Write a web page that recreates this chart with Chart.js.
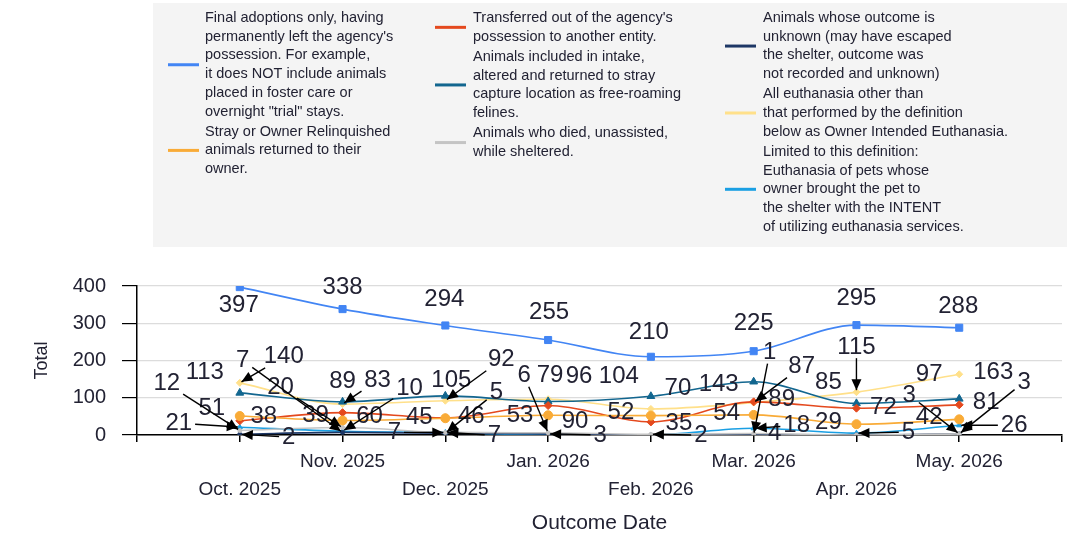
<!DOCTYPE html>
<html>
<head>
<meta charset="utf-8">
<script src="https://cdn.jsdelivr.net/npm/chart.js@4.4.1/dist/chart.umd.min.js"></script>
<style>
    html, body { margin: 0; padding: 0; background: #fff; }
    #wrap { width: 1079px; height: 540px; position: relative; }
</style>
</head>
<body>
<div id="wrap"><canvas id="outcomes"></canvas></div>
<script>
// ===== Data =====
const months = ['Oct. 2025', 'Nov. 2025', 'Dec. 2025', 'Jan. 2026', 'Feb. 2026', 'Mar. 2026', 'Apr. 2026', 'May. 2026'];

const adoption   = [397, 338, 294, 255, 210, 225, 295, 288];
const returnOwner = [51, 39, 45, 53, 52, 54, 29, 42];
const transfer   = [38, 60, 46, 79, 35, 89, 72, 81];
const returnField = [113, 89, 105, 90, 104, 143, 85, 97];
const died       = [12, 20, 7, 6, 2, 4, 0, 3];
const missing    = [2, 7, 5, 3, 0, 1, 0, 3];
const euthanasia = [140, 83, 92, 96, 70, 87, 115, 163];
const ownerEuth  = [21, 10, 7, 0, 0, 18, 5, 26];

const yTicks = [0, 100, 200, 300, 400];

const legendText = [
    ['Final adoptions only, having', "permanently left the agency's", 'possession. For example,', 'it does NOT include animals', 'placed in foster care or', 'overnight "trial" stays.'],
    ['Stray or Owner Relinquished', 'animals returned to their', 'owner.'],
    ["Transferred out of the agency's", 'possession to another entity.'],
    ['Animals included in intake,', 'altered and returned to stray', 'capture location as free-roaming', 'felines.'],
    ['Animals who died, unassisted,', 'while sheltered.'],
    ['Animals whose outcome is', 'unknown (may have escaped', 'the shelter, outcome was', 'not recorded and unknown)'],
    ['All euthanasia other than', 'that performed by the definition', 'below as Owner Intended Euthanasia.'],
    ['Limited to this definition:', 'Euthanasia of pets whose', 'owner brought the pet to', 'the shelter with the INTENT', 'of utilizing euthanasia services.']
];

// ===== Styling =====
const FONT = '"Liberation Sans", Arial, Helvetica, sans-serif';
const TEXT = '#222233';

const seriesStyle = [
    { color: '#4285f4', point: 'rect', radius: 5 },
    { color: '#f9ab37', point: 'circle', radius: 4.5 },
    { color: '#e4491e', point: 'rectRot', radius: 4 },
    { color: '#12668f', point: 'triangle', radius: 4.5 },
    { color: '#c4c4c4', point: 'circle', radius: 2 },
    { color: '#1d3765', point: 'circle', radius: 2 },
    { color: '#ffe08a', point: 'rectRot', radius: 3.5 },
    { color: '#1a9fe3', point: 'triangle', radius: 3 }
];

// label shift from its point, in px [dx, dy]
const labelShift = [
    [[-1, 18], [0, -22], [-1, -26], [1, -28], [-2, -24], [0, -28], [0, -27], [-1, -21]],
    [[-28, -8], [-27, -5], [-26, -1], [-28, 0], [-30, -3], [-27, -2], [-28, -2], [-30, -2]],
    [[24, -4], [27, 4], [26, -1], [2, -30], [28, 1], [28, -2], [27, -1], [27, -2]],
    [[-35, -21], [0, -20], [6, -16], [27, 20], [-32, -20], [-35, 3], [-28, -21], [-30, -24]],
    [[-73, -47], [-62, -40], [-51, 0], [-24, -57], [50, 1], [21, 0], [0, 0], [65, -52]],
    [[49, 3], [-100, -72], [51, -41], [52, 1], [0, 0], [16, -82], [0, 0], [-50, -39]],
    [[44, -26], [35, -24], [56, -41], [31, -23], [27, -21], [48, -36], [0, -45], [34, -2]],
    [[-61, -4], [67, -43], [49, 3], [0, 0], [0, 0], [43, -3], [52, -1], [55, 0]]
];

const allSeries = [adoption, returnOwner, transfer, returnField, died, missing, euthanasia, ownerEuth];

/**
 * Legend drawn in a grey panel above the plot, three columns
 */
const panelLegend = {
    id: 'panelLegend',
    beforeDraw(chart) {
        const ctx = chart.ctx;
        ctx.save();
        ctx.fillStyle = '#f4f4f4';
        ctx.fillRect(153, 3, 914, 244);

        const columns = [
            { items: [0, 1], sym: 168, text: 205 },
            { items: [2, 3, 4], sym: 435, text: 473 },
            { items: [5, 6, 7], sym: 725, text: 763 }
        ];
        const lh = 18.7;
        ctx.font = '14.5px ' + FONT;
        ctx.textBaseline = 'middle';
        ctx.textAlign = 'left';
        columns.forEach(col => {
            let y = 18;
            col.items.forEach(si => {
                const lines = legendText[si];
                const mid = y + (lines.length - 1) * lh / 2;
                ctx.strokeStyle = seriesStyle[si].color;
                ctx.lineWidth = 3;
                ctx.beginPath();
                ctx.moveTo(col.sym, mid);
                ctx.lineTo(col.sym + 31, mid);
                ctx.stroke();
                ctx.fillStyle = TEXT;
                lines.forEach((ln, k) => ctx.fillText(ln, col.text, y + k * lh));
                y += lines.length * lh + 1.5;
            });
        });
        ctx.restore();
    }
};

/**
 * Value labels, with a leader arrow when pushed far from the point
 */
const valueLabels = {
    id: 'valueLabels',
    afterDatasetsDraw(chart) {
        const ctx = chart.ctx;
        ctx.save();
        ctx.font = '24px ' + FONT;
        ctx.textAlign = 'center';
        ctx.textBaseline = 'middle';
        chart.data.datasets.forEach((ds, di) => {
            const meta = chart.getDatasetMeta(di);
            meta.data.forEach((pt, i) => {
                const v = allSeries[di][i];
                if (v === 0) return;
                const [dx, dy] = labelShift[di][i];
                const lx = pt.x + dx;
                const ly = pt.y + dy;
                const dist = Math.hypot(dx, dy);
                if (dist > 42) {
                    const w = ctx.measureText(String(v)).width / 2 + 3;
                    const h = 11;
                    const ux = -dx / dist, uy = -dy / dist;
                    const t = Math.min(Math.abs(ux) > 1e-6 ? w / Math.abs(ux) : 1e9, Math.abs(uy) > 1e-6 ? h / Math.abs(uy) : 1e9);
                    const sx = lx + ux * t, sy = ly + uy * t;
                    const ex = pt.x - ux * 2, ey = pt.y - uy * 2;
                    ctx.strokeStyle = '#000';
                    ctx.fillStyle = '#000';
                    ctx.lineWidth = 1.4;
                    ctx.beginPath();
                    ctx.moveTo(sx, sy);
                    ctx.lineTo(ex, ey);
                    ctx.stroke();
                    const al = 11, aw = 5;
                    ctx.beginPath();
                    ctx.moveTo(ex, ey);
                    ctx.lineTo(ex - ux * al - uy * aw, ey - uy * al + ux * aw);
                    ctx.lineTo(ex - ux * al + uy * aw, ey - uy * al - ux * aw);
                    ctx.closePath();
                    ctx.fill();
                }
                ctx.fillStyle = TEXT;
                ctx.fillText(String(v), lx, ly);
            });
        });
        ctx.restore();
    }
};

function buildDatasets() {
    return allSeries.map((values, si) => ({
        label: legendText[si].join(' '),
        data: values.map((v, i) => ({ x: i, y: v })),
        borderColor: seriesStyle[si].color,
        backgroundColor: seriesStyle[si].color,
        borderWidth: 1.6,
        pointStyle: seriesStyle[si].point,
        pointRadius: seriesStyle[si].radius,
        pointBorderWidth: 1,
        cubicInterpolationMode: 'monotone',
        fill: false
    }));
}

new Chart(document.getElementById('outcomes'), {
    type: 'line',
    data: { datasets: buildDatasets() },
    plugins: [panelLegend, valueLabels],
    options: {
        responsive: true,
        maintainAspectRatio: false,
        animation: false,
        layout: { padding: { top: 286, right: 17, left: 0, bottom: 0 } },
        plugins: { legend: { display: false }, tooltip: { enabled: false } },
        scales: {
            x: {
                type: 'linear',
                min: -1,
                max: 8,
                afterFit: scale => { scale.height = 105; },
                afterBuildTicks: scale => {
                    scale.ticks = [-1, 0, 1, 2, 3, 4, 5, 6, 7, 8].map(v => ({ value: v }));
                },
                ticks: {
                    autoSkip: false,
                    maxRotation: 0,
                    padding: 6,
                    color: TEXT,
                    font: { family: FONT, size: 19, lineHeight: 1.47 },
                    callback: v => {
                        const m = months[v];
                        if (!m) return '';
                        return v % 2 === 1 ? m : ['', m];
                    }
                },
                grid: { drawOnChartArea: false, tickLength: 7, tickColor: '#000', lineWidth: 1.5 },
                border: { color: '#000', width: 1.5 },
                title: {
                    display: true,
                    text: 'Outcome Date',
                    color: TEXT,
                    font: { family: FONT, size: 21 },
                    padding: { top: 0, bottom: 4 }
                }
            },
            y: {
                min: 0,
                max: 400,
                afterFit: scale => { scale.width = 137; },
                afterBuildTicks: scale => {
                    scale.ticks = yTicks.map(v => ({ value: v }));
                },
                ticks: {
                    padding: 16,
                    color: TEXT,
                    font: { family: FONT, size: 20 }
                },
                grid: { color: '#dcdcdc', tickColor: '#000', tickLength: 15, lineWidth: 1.2 },
                border: { color: '#000', width: 1.5 },
                title: {
                    display: true,
                    text: 'Total',
                    color: TEXT,
                    font: { family: FONT, size: 18 },
                    padding: { top: 31, bottom: 0 }
                }
            }
        }
    }
});
</script>
</body>
</html>
